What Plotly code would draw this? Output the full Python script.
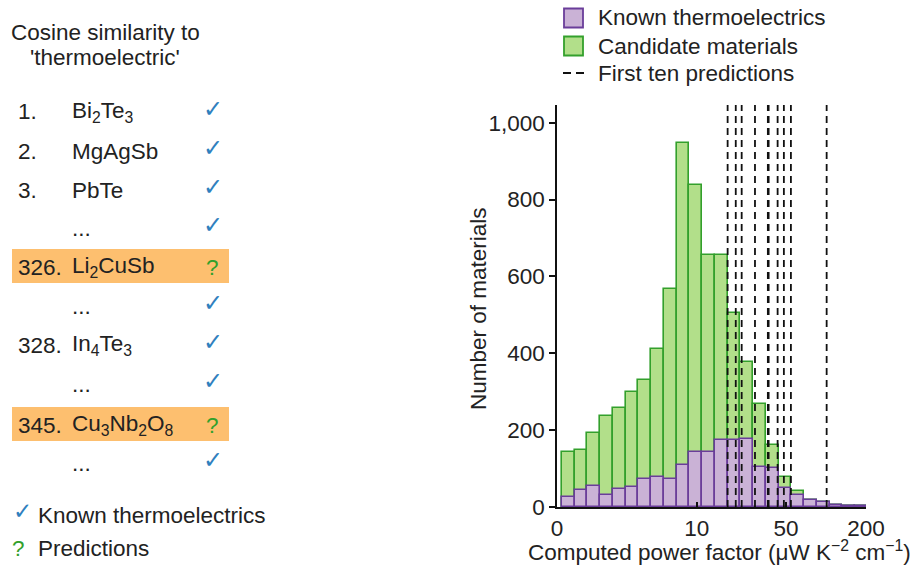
import numpy as np
import plotly.graph_objects as go

# Histogram of computed power factor, binned on a log10(1 + PF) scale
bin_start = 0.037          # first bin edge, log10(1 + PF)
bin_width = 0.095          # bin width, log10 units
known_counts = [26, 43, 55, 30, 48, 52, 74, 78, 72, 109, 143, 143,
                174, 174, 178, 104, 102, 49, 30, 17, 13, 4, 3, 2]
candidate_counts = [142, 148, 193, 237, 257, 299, 330, 411, 567, 948, 837, 657,
                    657, 506, 378, 268, 161, 79, 42, 17, 13, 4, 3, 2]
# Power factors of the first ten predicted thermoelectrics
first_ten_pf = [17.7, 20.5, 22.8, 28.9, 36.3, 36.8, 43.1, 48.1, 54.4, 101.3]

tick_values = [0, 10, 50, 200]
tick_labels = ["0", "10", "50", "200"]

# Ranked list of materials by cosine similarity to 'thermoelectric'
rank_labels = ["1.", "2.", "3.", "", "326.", "", "328.", "", "345.", ""]
rank_materials = ["Bi<sub>2</sub>Te<sub>3</sub>", "MgAgSb", "PbTe", "...",
                  "Li<sub>2</sub>CuSb", "...", "In<sub>4</sub>Te<sub>3</sub>", "...",
                  "Cu<sub>3</sub>Nb<sub>2</sub>O<sub>8</sub>", "..."]
rank_is_prediction = [False, False, False, False, True, False, False, False, True, False]

GREEN_FILL, GREEN_LINE = "#B2DF8A", "#33A02C"
PURPLE_FILL, PURPLE_LINE = "#CAB2D6", "#6A3D9A"
ORANGE = "#FDBF6F"
CHECK_BLUE = "#2F80BE"
TEXT = "#222222"
FONT = "Liberation Sans"
FS = 22.5

W, H = 916, 566
L, R, T, B = 557, 50, 105, 59
PW, PH = W - L - R, H - T - B


def tx(v):
    return np.log10(1.0 + np.asarray(v, dtype=float))


def px(x):
    return (x - L) / PW


def py(y):
    return (H - B - y) / PH


n_bins = len(known_counts)
centers = bin_start + bin_width * (np.arange(n_bins) + 0.5)
y_top = 1046

fig = go.Figure()
fig.add_trace(go.Bar(
    x=centers, y=candidate_counts, width=bin_width, name="Candidate materials",
    marker=dict(color=GREEN_FILL, line=dict(color=GREEN_LINE, width=1.6)),
))
fig.add_trace(go.Bar(
    x=centers, y=known_counts, width=bin_width, name="Known thermoelectrics",
    marker=dict(color=PURPLE_FILL, line=dict(color=PURPLE_LINE, width=1.6)),
))

line_x, line_y = [], []
for v in tx(first_ten_pf):
    line_x += [v, v, None]
    line_y += [0, y_top, None]
fig.add_trace(go.Scatter(
    x=line_x, y=line_y, mode="lines", name="First ten predictions",
    line=dict(color="#111111", width=1.8, dash="7px,5px"), hoverinfo="skip",
))

annotations = []
shapes = []

# Legend for the histogram
legend_rows = [("Known thermoelectrics", "box", PURPLE_FILL, PURPLE_LINE, 18),
               ("Candidate materials", "box", GREEN_FILL, GREEN_LINE, 46),
               ("First ten predictions", "dash", None, "#111111", 74)]
for label, kind, fill, edge, ly in legend_rows:
    if kind == "box":
        shapes.append(dict(type="rect", xref="paper", yref="paper",
                           x0=px(564), x1=px(583), y0=py(ly + 9.5), y1=py(ly - 9.5),
                           fillcolor=fill, line=dict(color=edge, width=1.8)))
    else:
        shapes.append(dict(type="line", xref="paper", yref="paper",
                           x0=px(563), x1=px(584), y0=py(ly - 1), y1=py(ly - 1),
                           line=dict(color=edge, width=2, dash="8px,5px")))
    annotations.append(dict(text=label, x=px(596), y=py(ly), xanchor="left"))

# Left-hand ranked list
annotations.append(dict(text="Cosine similarity to", x=px(105), y=py(32)))
annotations.append(dict(text="'thermoelectric'", x=px(105), y=py(58)))

row_y = [112, 151, 190, 228, 267, 306, 345, 384, 425, 463]
for ry, lab, mat, pred in zip(row_y, rank_labels, rank_materials, rank_is_prediction):
    if pred:
        shapes.append(dict(type="rect", xref="paper", yref="paper",
                           x0=px(12), x1=px(229), y0=py(ry - 18), y1=py(ry + 16),
                           fillcolor=ORANGE, line=dict(width=0), layer="below"))
    if lab:
        annotations.append(dict(text=lab, x=px(16), y=py(ry), xanchor="left"))
    annotations.append(dict(text=mat, x=px(70), y=py(ry), xanchor="left"))
    if pred:
        annotations.append(dict(text="?", x=px(213), y=py(ry), font=dict(color=GREEN_LINE, size=FS, family=FONT)))
    else:
        annotations.append(dict(text="✓", x=px(213), y=py(ry - 3), font=dict(color=CHECK_BLUE, size=24, family="DejaVu Sans")))

annotations.append(dict(text="✓", x=px(22), y=py(511), font=dict(color=CHECK_BLUE, size=23, family="DejaVu Sans")))
annotations.append(dict(text="Known thermoelectrics", x=px(36), y=py(515), xanchor="left"))
annotations.append(dict(text="?", x=px(18), y=py(548), font=dict(color=GREEN_LINE, size=FS, family=FONT)))
annotations.append(dict(text="Predictions", x=px(36), y=py(548), xanchor="left"))

# Axis titles
annotations.append(dict(text="Computed power factor (μW K<sup>−2</sup> cm<sup>−1</sup>)",
                        x=px(719), y=py(551)))
annotations.append(dict(text="Number of materials", x=px(478), y=py(309), textangle=-90))

for a in annotations:
    a.setdefault("xref", "paper")
    a.setdefault("yref", "paper")
    a.setdefault("showarrow", False)
    a.setdefault("xanchor", "center")
    a.setdefault("yanchor", "middle")
    a.setdefault("font", dict(family=FONT, size=FS, color=TEXT))

fig.update_layout(
    width=W, height=H,
    margin=dict(l=L, r=R, t=T, b=B),
    paper_bgcolor="white", plot_bgcolor="white",
    barmode="overlay", bargap=0,
    font=dict(family=FONT, size=FS, color=TEXT),
    showlegend=False,
    annotations=annotations,
    shapes=shapes,
)
fig.update_xaxes(
    range=[0, float(tx(200))], tickvals=list(tx(tick_values)), ticktext=tick_labels,
    showgrid=False, zeroline=False, showline=True, linecolor="#111111", linewidth=1.5,
    ticks="inside", ticklen=5, tickwidth=1.5, tickcolor="#111111",
    tickfont=dict(family=FONT, size=FS, color=TEXT),
)
fig.update_yaxes(
    range=[0, y_top], tickvals=[0, 200, 400, 600, 800, 1000], tickformat=",",
    showgrid=False, zeroline=False, showline=True, linecolor="#111111", linewidth=1.5,
    ticks="outside", ticklen=6, tickwidth=1.5, tickcolor="#111111",
    tickfont=dict(family=FONT, size=FS, color=TEXT),
)

fig.write_html("out.html")
